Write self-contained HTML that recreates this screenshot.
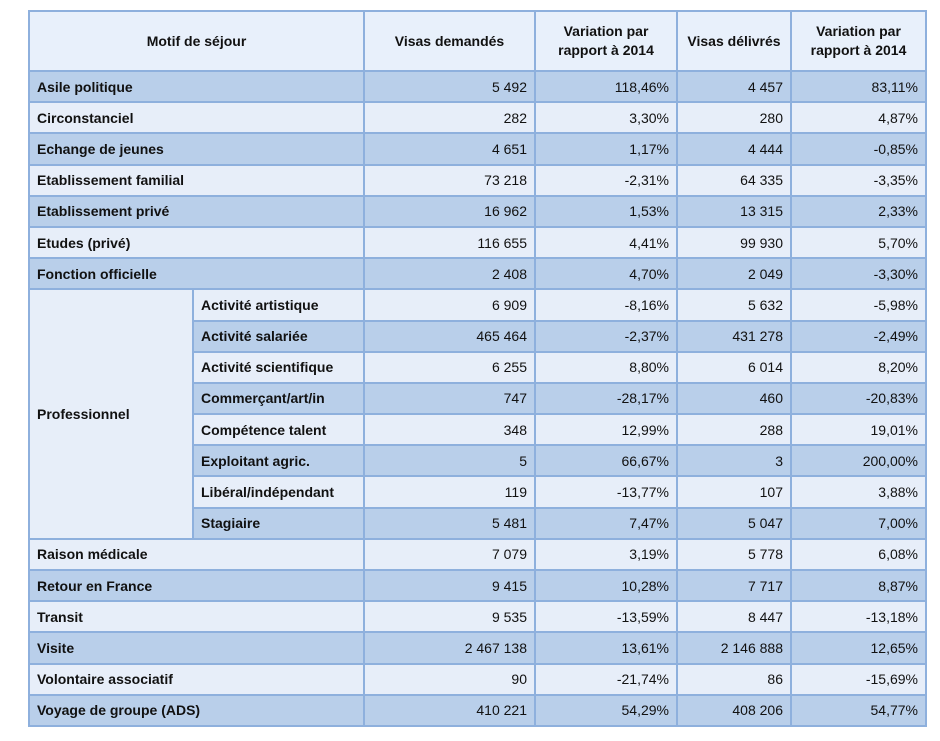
<!DOCTYPE html>
<html><head><meta charset="utf-8"><style>
body{margin:0;background:#fff;width:940px;height:741px;overflow:hidden}
table{position:absolute;left:28px;top:10px;border-collapse:collapse;border:2px solid #8eb0dd;font-family:"Liberation Sans",sans-serif;font-size:14px;color:#111}
td,th{border:2px solid #8eb0dd;padding:0 7px;height:29.2px;white-space:nowrap}
th{height:58px;background:#e8f0fb;font-weight:bold;text-align:center;line-height:19px}
td.l{font-weight:bold;text-align:left}
td.n{text-align:right}
tr.d td{background:#b9cfea}
tr.w td{background:#e7eef9}
td.p{background:#e7eef9!important}
</style></head><body>
<table>
<colgroup><col style="width:164px"><col style="width:171px"><col style="width:171px"><col style="width:142px"><col style="width:114px"><col style="width:135px"></colgroup>
<tr><th colspan="2">Motif de séjour</th><th>Visas demandés</th><th>Variation par<br>rapport à 2014</th><th>Visas délivrés</th><th>Variation par<br>rapport à 2014</th></tr>
<tr class="d"><td class="l" colspan="2">Asile politique</td><td class="n">5 492</td><td class="n">118,46%</td><td class="n">4 457</td><td class="n">83,11%</td></tr>
<tr class="w"><td class="l" colspan="2">Circonstanciel</td><td class="n">282</td><td class="n">3,30%</td><td class="n">280</td><td class="n">4,87%</td></tr>
<tr class="d"><td class="l" colspan="2">Echange de jeunes</td><td class="n">4 651</td><td class="n">1,17%</td><td class="n">4 444</td><td class="n">-0,85%</td></tr>
<tr class="w"><td class="l" colspan="2">Etablissement familial</td><td class="n">73 218</td><td class="n">-2,31%</td><td class="n">64 335</td><td class="n">-3,35%</td></tr>
<tr class="d"><td class="l" colspan="2">Etablissement privé</td><td class="n">16 962</td><td class="n">1,53%</td><td class="n">13 315</td><td class="n">2,33%</td></tr>
<tr class="w"><td class="l" colspan="2">Etudes (privé)</td><td class="n">116 655</td><td class="n">4,41%</td><td class="n">99 930</td><td class="n">5,70%</td></tr>
<tr class="d"><td class="l" colspan="2">Fonction officielle</td><td class="n">2 408</td><td class="n">4,70%</td><td class="n">2 049</td><td class="n">-3,30%</td></tr>
<tr class="w"><td class="l p" rowspan="8">Professionnel</td><td class="l">Activité artistique</td><td class="n">6 909</td><td class="n">-8,16%</td><td class="n">5 632</td><td class="n">-5,98%</td></tr>
<tr class="d"><td class="l">Activité salariée</td><td class="n">465 464</td><td class="n">-2,37%</td><td class="n">431 278</td><td class="n">-2,49%</td></tr>
<tr class="w"><td class="l">Activité scientifique</td><td class="n">6 255</td><td class="n">8,80%</td><td class="n">6 014</td><td class="n">8,20%</td></tr>
<tr class="d"><td class="l">Commerçant/art/in</td><td class="n">747</td><td class="n">-28,17%</td><td class="n">460</td><td class="n">-20,83%</td></tr>
<tr class="w"><td class="l">Compétence talent</td><td class="n">348</td><td class="n">12,99%</td><td class="n">288</td><td class="n">19,01%</td></tr>
<tr class="d"><td class="l">Exploitant agric.</td><td class="n">5</td><td class="n">66,67%</td><td class="n">3</td><td class="n">200,00%</td></tr>
<tr class="w"><td class="l">Libéral/indépendant</td><td class="n">119</td><td class="n">-13,77%</td><td class="n">107</td><td class="n">3,88%</td></tr>
<tr class="d"><td class="l">Stagiaire</td><td class="n">5 481</td><td class="n">7,47%</td><td class="n">5 047</td><td class="n">7,00%</td></tr>
<tr class="w"><td class="l" colspan="2">Raison médicale</td><td class="n">7 079</td><td class="n">3,19%</td><td class="n">5 778</td><td class="n">6,08%</td></tr>
<tr class="d"><td class="l" colspan="2">Retour en France</td><td class="n">9 415</td><td class="n">10,28%</td><td class="n">7 717</td><td class="n">8,87%</td></tr>
<tr class="w"><td class="l" colspan="2">Transit</td><td class="n">9 535</td><td class="n">-13,59%</td><td class="n">8 447</td><td class="n">-13,18%</td></tr>
<tr class="d"><td class="l" colspan="2">Visite</td><td class="n">2 467 138</td><td class="n">13,61%</td><td class="n">2 146 888</td><td class="n">12,65%</td></tr>
<tr class="w"><td class="l" colspan="2">Volontaire associatif</td><td class="n">90</td><td class="n">-21,74%</td><td class="n">86</td><td class="n">-15,69%</td></tr>
<tr class="d"><td class="l" colspan="2">Voyage de groupe (ADS)</td><td class="n">410 221</td><td class="n">54,29%</td><td class="n">408 206</td><td class="n">54,77%</td></tr>
</table>
</body></html>
